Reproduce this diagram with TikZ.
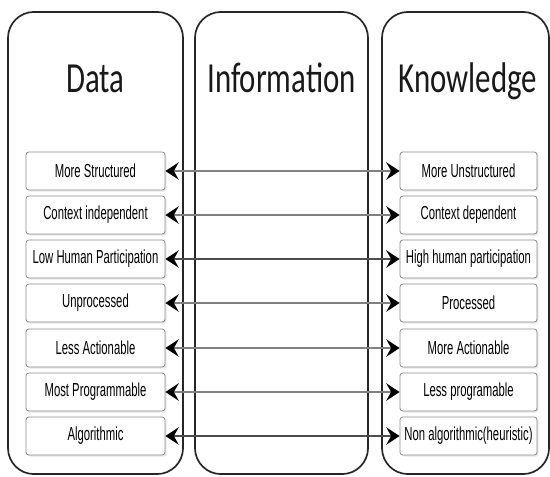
\documentclass[tikz,border=0pt]{standalone}
\usepackage{fontspec}
\usepackage{tikz}
\usetikzlibrary{positioning, shapes, arrows.meta, shadows}
\newfontfamily\titlefont[FakeStretch=0.72]{Carlito}
\newfontfamily\itemfont[FakeStretch=0.6]{Liberation Sans}
\tikzset{
    column/.style = {rectangle, draw=black!85, line width=1.2pt, rounded corners=0.65cm,
                        minimum height=11.55cm, inner sep=0pt},
    heading/.style = {anchor=base, font=\titlefont\fontsize{30.5pt}{31pt}\selectfont, text=black!90},
    item/.style = {rectangle, draw=black!45, line width=0.6pt, rounded corners=2pt, fill=white,
                        minimum height=0.95cm, inner sep=0pt, align=center,
                        font=\itemfont\fontsize{13.4pt}{14pt}\selectfont,
                        drop shadow={opacity=0.18, shadow xshift=1.2pt, shadow yshift=-1.2pt}},
    leftitem/.style = {item, minimum width=3.475cm},
    rightitem/.style = {item, minimum width=3.425cm},
    link/.style = {draw=black!50, line width=1.1pt,
                        {Stealth[black, length=9.5pt, width=12.5pt, inset=3.5pt]}-{Stealth[black, length=9.5pt, width=12.5pt, inset=3.5pt]}}
}

\begin{document}
\begin{tikzpicture}[x=0.025cm, y=-0.025cm]
		\useasboundingbox (0,0) rectangle (550,476);
		\node (datacol) [column, minimum width=4.375cm] at (95.5,243) {};
		\node (infocol) [column, minimum width=4.325cm] at (281.5,243) {};
		\node (knowcol) [column, minimum width=4.175cm] at (465.5,243) {};
		\node (data) [heading] at (95.5,92) {Data};
		\node (info) [heading] at (281.5,92) {Information};
		\node (know) [heading] at (468,92) {Knowledge};
		\node (d1) [leftitem] at (95.5,171) {More Structured};
		\node (d2) [leftitem] at (95.5,215) {Context independent};
		\node (d3) [leftitem] at (95.5,259) {Low Human Participation};
		\node (d4) [leftitem] at (95.5,303) {Unprocessed};
		\node (d5) [leftitem] at (95.5,348) {Less Actionable};
		\node (d6) [leftitem] at (95.5,392) {Most Programmable};
		\node (d7) [leftitem] at (95.5,436) {Algorithmic};
		\node (k1) [rightitem] at (468.5,171) {More Unstructured};
		\node (k2) [rightitem] at (468.5,215) {Context dependent};
		\node (k3) [rightitem] at (468.5,259) {High human participation};
		\node (k4) [rightitem] at (468.5,303) {Processed};
		\node (k5) [rightitem] at (468.5,348) {More Actionable};
		\node (k6) [rightitem] at (468.5,392) {Less programable};
		\node (k7) [rightitem] at (468.5,436) {Non algorithmic(heuristic)};
		\draw [link] (d1) to (k1);
		\draw [link] (d2) to (k2);
		\draw [link, draw=black!70] (d3) to (k3);
		\draw [link] (d4) to (k4);
		\draw [link] (d5) to (k5);
		\draw [link] (d6) to (k6);
		\draw [link, draw=black!70] (d7) to (k7);
	\end{tikzpicture}
\end{document}
